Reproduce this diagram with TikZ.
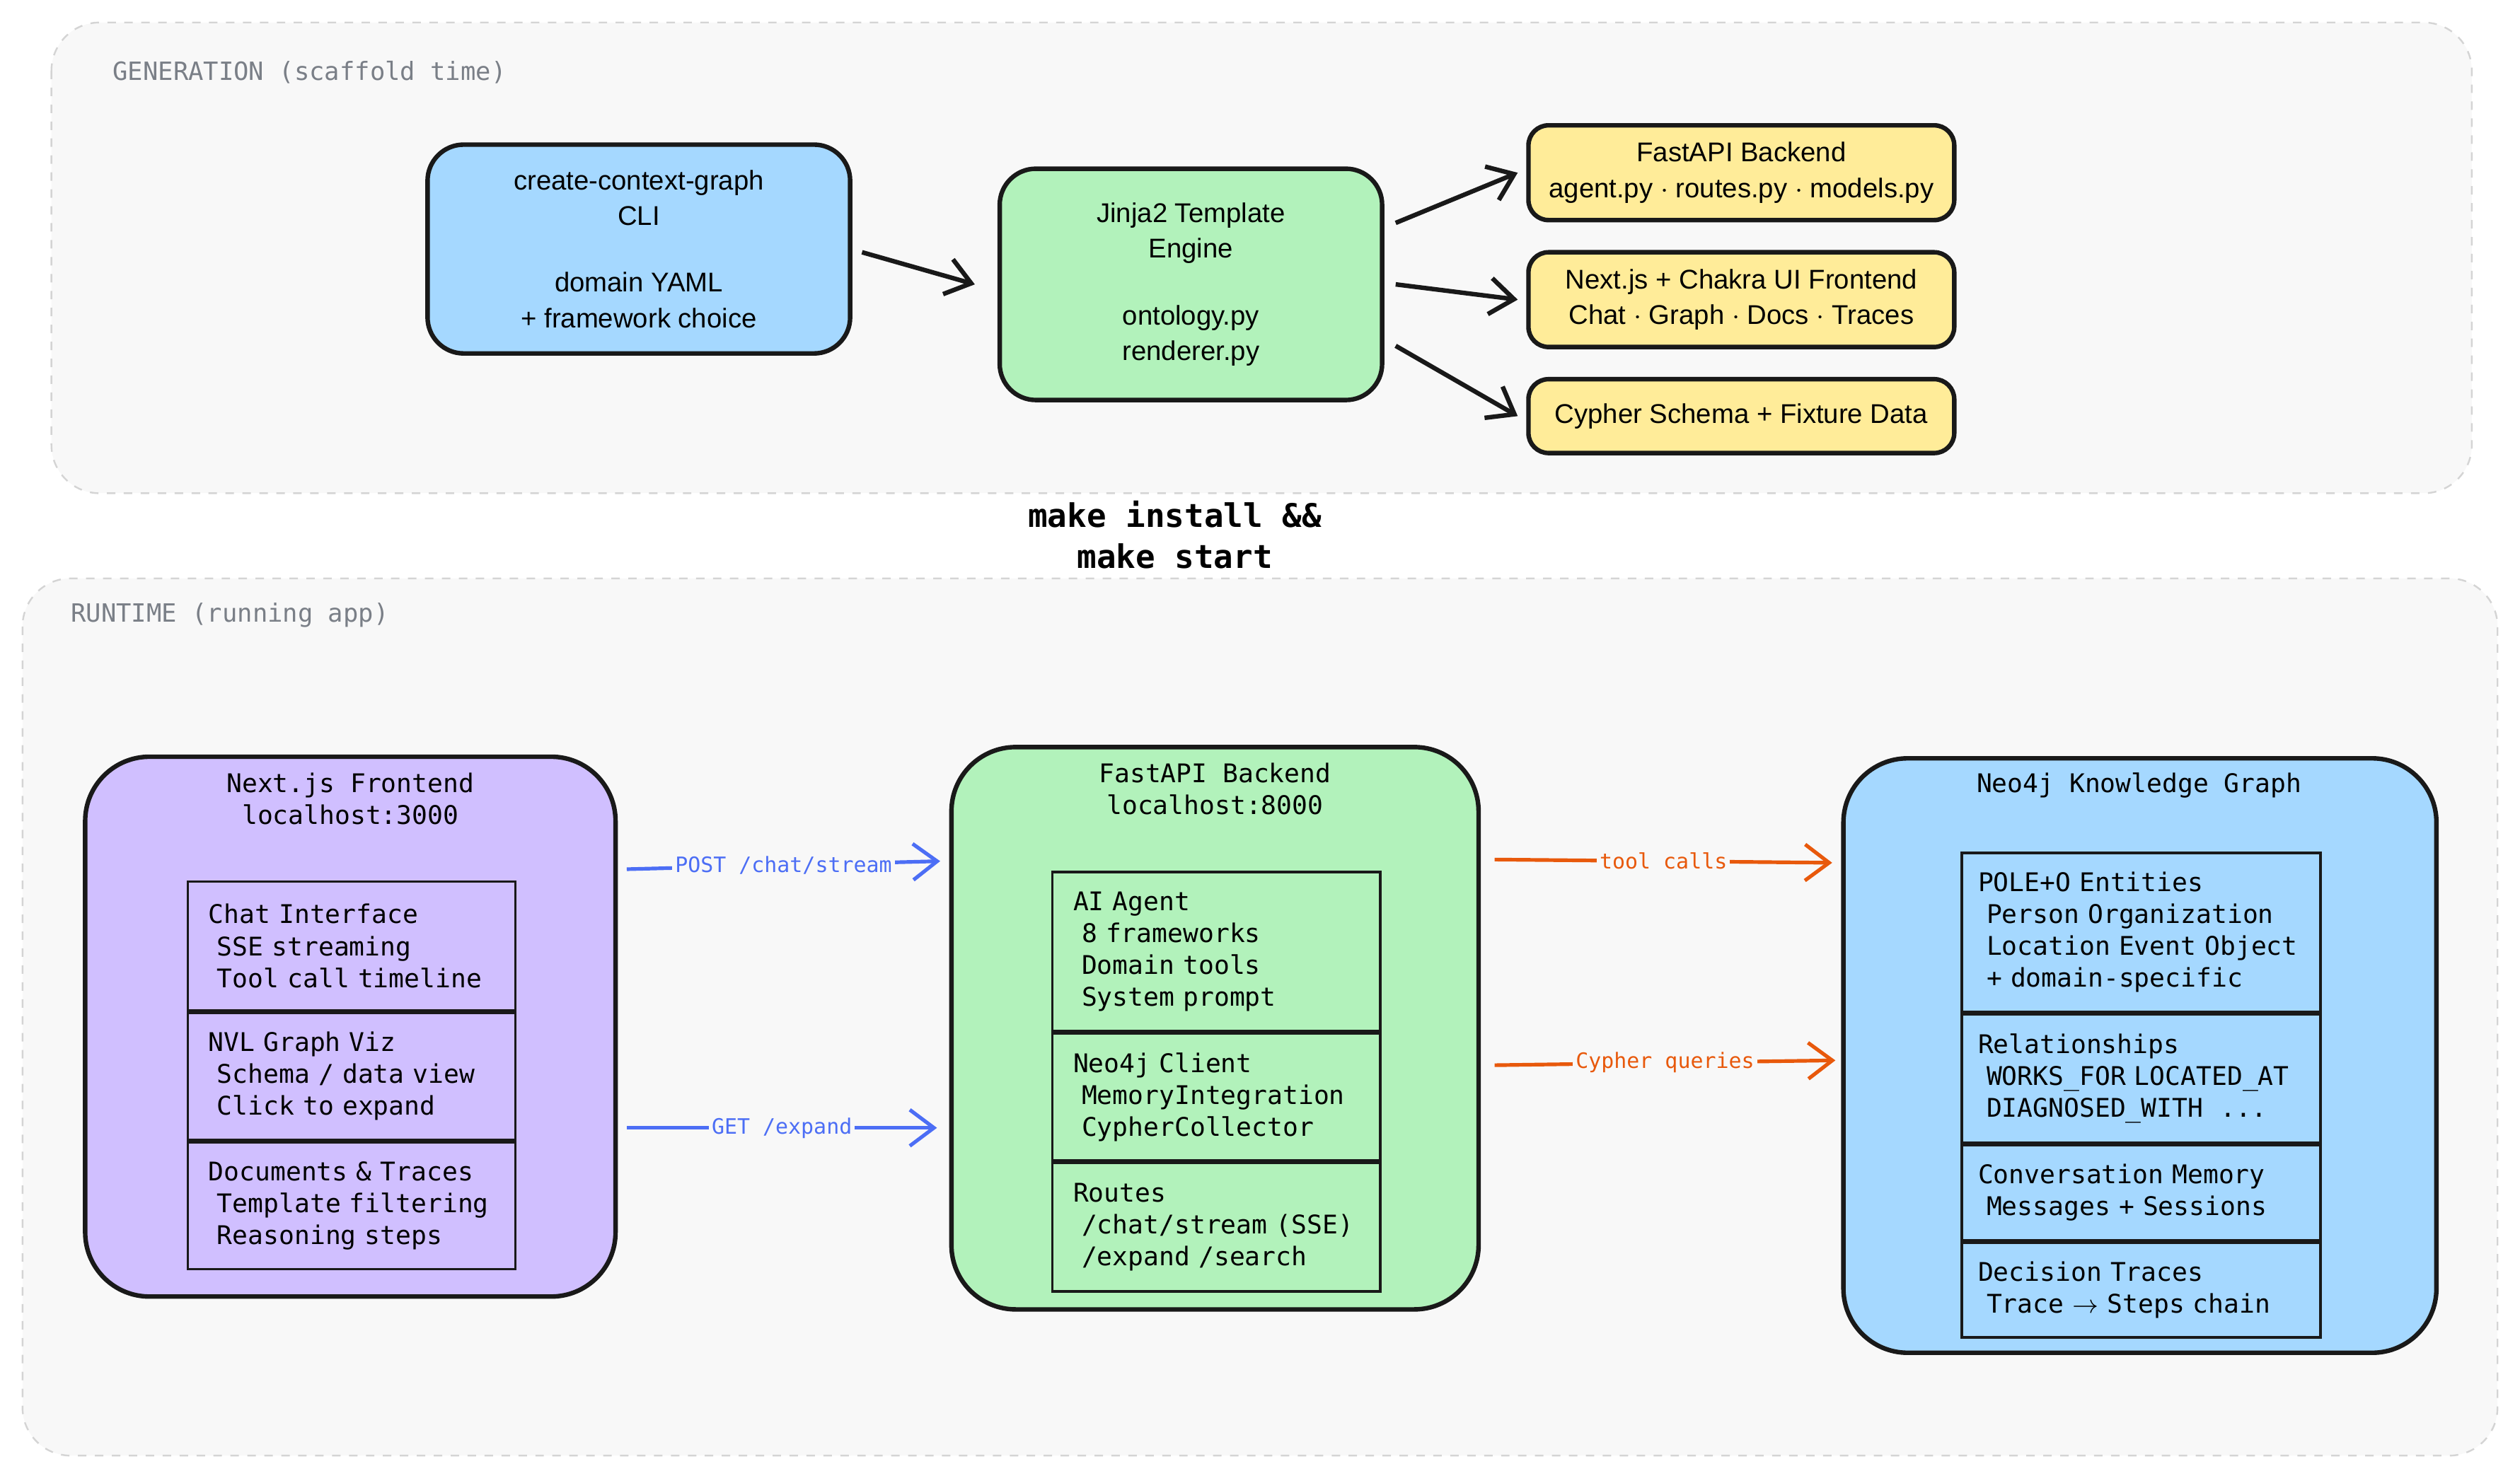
\documentclass[tikz,border=0pt]{standalone}
\usepackage{fontspec}
\newfontfamily\monofont{DejaVu Sans Mono}[WordSpace={1,0,0}]
\newfontfamily\handfont{Liberation Sans}
\usetikzlibrary{positioning, arrows.meta}
\definecolor{frameg}{HTML}{F8F8F8}
\definecolor{frameline}{HTML}{D4D4D4}
\definecolor{labelg}{HTML}{7A7F87}
\definecolor{cliblue}{HTML}{A5D8FF}
\definecolor{jinjag}{HTML}{B2F2BB}
\definecolor{outy}{HTML}{FFEC99}
\definecolor{feviolet}{HTML}{D0BFFF}
\definecolor{httpblue}{HTML}{4C6EF5}
\definecolor{dborange}{HTML}{E8590C}

\begin{document}
\hyphenpenalty=10000
\begin{tikzpicture}[
    x=0.02cm, y=-0.02cm,
    stage/.style={draw=frameline, dashed, fill=frameg, rounded corners=0.6cm, line width=0.6pt},
    stagelabel/.style={anchor=west, text=labelg, font=\monofont\fontsize{8.9}{11}\selectfont},
    sketch/.style={draw=black!90, line width=1.6pt, rounded corners=0.45cm, align=center, font=\handfont\fontsize{9.6}{12.6}\selectfont},
    outfile/.style={sketch, fill=outy, rounded corners=0.25cm, minimum width=5.3cm},
    service/.style={draw=black!90, line width=1.6pt, rounded corners=0.8cm},
    title/.style={align=center, font=\monofont\fontsize{9.1}{11.3}\selectfont},
    row/.style={draw=black!90, line width=0.9pt, align=left, anchor=north west, inner xsep=0.26cm,
        font=\monofont\fontsize{9.1}{11.3}\selectfont},
    kgrow/.style={row, text width=4.06cm, inner xsep=0.2cm},
    flow/.style={-{Straight Barb[length=0.3cm, width=0.45cm]}, line width=1.6pt, black!90},
    http/.style={flow, httpblue, line width=1.3pt},
    query/.style={flow, dborange, line width=1.3pt},
    onwire/.style={fill=frameg, inner sep=1pt, font=\monofont\fontsize{7.5}{9}\selectfont}
]
\useasboundingbox (0,0) rectangle (1568,918.7);

% Generation stage
\draw[stage] (32,14) rectangle (1538,307);
\node[stagelabel] (genlabel) at (64,45) {GENERATION (scaffold time)};

\node[sketch, fill=cliblue, minimum width=5.26cm, minimum height=2.6cm] (cli) at (397.5,155)
    {create-context-graph\\CLI\\[11pt]domain YAML\\+ framework choice};
\node[sketch, fill=jinjag, minimum width=4.76cm, minimum height=2.88cm] (jinja) at (741,177)
    {Jinja2 Template\\Engine\\[11pt]ontology.py\\renderer.py};
\node[outfile, minimum height=1.18cm] (outapi) at (1083.5,107.5) {FastAPI Backend\\agent.py $\cdot$ routes.py $\cdot$ models.py};
\node[outfile, minimum height=1.18cm] (outui) at (1083.5,186.5) {Next.js + Chakra UI Frontend\\Chat $\cdot$ Graph $\cdot$ Docs $\cdot$ Traces};
\node[outfile, minimum height=0.92cm] (outdb) at (1083.5,259) {Cypher Schema + Fixture Data};

\draw[flow] (cli.east) ++(6,2) -- ([xshift=-8pt]jinja.west);
\draw[flow] ([xshift=4pt,yshift=-20pt]jinja.north east) -- ([xshift=-3pt]outapi.west);
\draw[flow] ([xshift=4pt]jinja.east) -- ([xshift=-3pt]outui.west);
\draw[flow] ([xshift=4pt,yshift=20pt]jinja.south east) -- ([xshift=-3pt]outdb.west);

% Step between stages
\node[align=center, font=\monofont\bfseries\fontsize{11.5}{14.5}\selectfont] (make) at (731,333) {make install \&\&\\make start};

% Runtime stage
\draw[stage] (14,360) rectangle (1554,906);
\node[stagelabel] (runlabel) at (38,383) {RUNTIME (running app)};

% Frontend
\draw[service, fill=feviolet] (53,471) rectangle (383,807);
\node[title] (fetitle) at (218,497) {Next.js Frontend\\localhost:3000};
\node[row, text width=3.56cm, minimum height=1.6cm] (fechat) at (116,548) {Chat Interface\\~SSE streaming\\~Tool call timeline};
\node[row, text width=3.56cm, minimum height=1.58cm, below=0pt of fechat.south west, anchor=north west] (fegraph) {NVL Graph Viz\\~Schema / data view\\~Click to expand};
\node[row, text width=3.56cm, minimum height=1.58cm, below=0pt of fegraph.south west, anchor=north west] (fedocs) {Documents \& Traces\\~Template filtering\\~Reasoning steps};

% Backend
\draw[service, fill=jinjag] (592,465) rectangle (920,815);
\node[title] (betitle) at (756,491) {FastAPI Backend\\localhost:8000};
\node[row, text width=3.56cm, minimum height=1.98cm] (beagent) at (654,542) {AI Agent\\~8 frameworks\\~Domain tools\\~System prompt};
\node[row, text width=3.56cm, minimum height=1.58cm, below=0pt of beagent.south west, anchor=north west] (beclient) {Neo4j Client\\~MemoryIntegration\\~CypherCollector};
\node[row, text width=3.56cm, minimum height=1.6cm, below=0pt of beclient.south west, anchor=north west] (beroutes) {Routes\\~/chat/stream (SSE)\\~/expand /search};

% Knowledge graph
\draw[service, fill=cliblue] (1147,472) rectangle (1516,842);
\node[title] (kgtitle) at (1331,489) {Neo4j Knowledge Graph};
\node[kgrow, minimum height=1.98cm] (kgpole) at (1220,530) {POLE+O Entities\\~Person Organization\\~Location Event Object\\~+ domain-specific};
\node[kgrow, minimum height=1.6cm, below=0pt of kgpole.south west, anchor=north west] (kgrel) {Relationships\\~WORKS\_FOR LOCATED\_AT\\~DIAGNOSED\_WITH~~...};
\node[kgrow, minimum height=1.18cm, below=0pt of kgrel.south west, anchor=north west] (kgconv) {Conversation Memory\\~Messages + Sessions};
\node[kgrow, minimum height=1.18cm, below=0pt of kgconv.south west, anchor=north west] (kgtrace) {Decision Traces\\~Trace $\rightarrow$ Steps chain};

% Runtime connectors
\coordinate (fepost) at (390,541);
\coordinate (feget) at (390,702);
\coordinate (bepost) at (585,536);
\coordinate (beget) at (583,702);
\coordinate (betool) at (930,535);
\coordinate (becypher) at (930,663);
\coordinate (kgtool) at (1140,537);
\coordinate (kgcypher) at (1142,660);
\draw[http] (fepost) -- node[onwire, text=httpblue] (postlbl) {POST /chat/stream} (bepost);
\draw[http] (feget) -- node[onwire, text=httpblue] (getlbl) {GET /expand} (beget);
\draw[query] (betool) -- node[onwire, text=dborange] (toollbl) {tool calls} (kgtool);
\draw[query] (becypher) -- node[onwire, text=dborange] (cypherlbl) {Cypher queries} (kgcypher);

\end{tikzpicture}
\end{document}
